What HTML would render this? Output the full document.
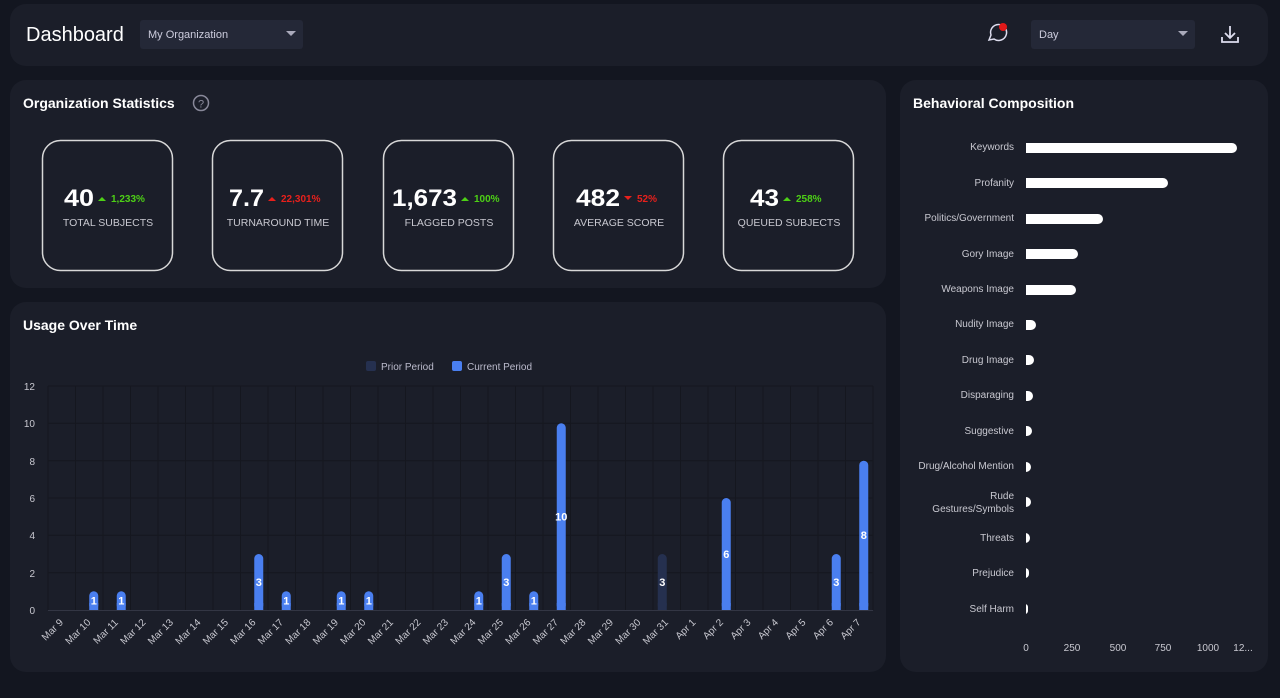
<!DOCTYPE html>
<html><head><meta charset="utf-8"><style>
html,body{margin:0;padding:0;background:#131620;width:1280px;height:698px;overflow:hidden}
svg{display:block;font-family:"Liberation Sans",sans-serif}
</style></head><body>
<svg width="1280" height="698" viewBox="0 0 1280 698">
<rect width="1280" height="698" fill="#131620"/>
<!-- header -->
<rect x="10" y="4" width="1258" height="62" rx="16" fill="#1b1e29"/>
<text x="26" y="41" font-size="20" fill="#fff">Dashboard</text>
<rect x="140" y="20" width="163" height="29" rx="3" fill="#242837"/>
<text x="148" y="38" font-size="11" fill="#ccd">My Organization</text>
<path d="M286 31h10l-5 5z" fill="#aab"/>
<rect x="1031" y="20" width="164" height="29" rx="3" fill="#242837"/>
<text x="1039" y="38" font-size="11" fill="#ccd">Day</text>
<path d="M1178 31h10l-5 5z" fill="#aab"/>
<path d="M989 40 l2-5 a8 8 0 1 1 3 4 z" fill="none" stroke="#dde" stroke-width="1.5"/>
<circle cx="1003" cy="27" r="4" fill="#e01818"/>
<path d="M1230 26v12 M1225 33l5 5 5-5 M1222 37v5h16v-5" fill="none" stroke="#dde" stroke-width="1.8"/>
<!-- stats panel -->
<rect x="10" y="80" width="876" height="208" rx="16" fill="#1b1e29"/>
<text x="23" y="108" font-size="14" font-weight="bold" fill="#fff">Organization Statistics</text>
<circle cx="201" cy="103" r="7.5" fill="none" stroke="#889" stroke-width="1.5"/>
<text x="201" y="107.5" font-size="11" fill="#889" text-anchor="middle">?</text>
<g fill="none" stroke="#d8d8d8" stroke-width="1.5">
<rect x="42.5" y="140.5" width="130" height="130" rx="18"/>
<rect x="212.5" y="140.5" width="130" height="130" rx="18"/>
<rect x="383.5" y="140.5" width="130" height="130" rx="18"/>
<rect x="553.5" y="140.5" width="130" height="130" rx="18"/>
<rect x="723.5" y="140.5" width="130" height="130" rx="18"/>
</g>
<g font-size="10.5" fill="#c8c8d0" text-anchor="middle">
<text x="108" y="226">TOTAL SUBJECTS</text>
<text x="278" y="226">TURNAROUND TIME</text>
<text x="449" y="226">FLAGGED POSTS</text>
<text x="619" y="226">AVERAGE SCORE</text>
<text x="789" y="226">QUEUED SUBJECTS</text>
</g>
<g font-size="24" font-weight="bold" fill="#fff" lengthAdjust="spacingAndGlyphs">
<text x="64" y="206" textLength="30" lengthAdjust="spacingAndGlyphs">40</text>
<text x="229" y="206" textLength="35" lengthAdjust="spacingAndGlyphs">7.7</text>
<text x="392" y="206" textLength="65" lengthAdjust="spacingAndGlyphs">1,673</text>
<text x="576" y="206" textLength="44" lengthAdjust="spacingAndGlyphs">482</text>
<text x="750" y="206" textLength="29" lengthAdjust="spacingAndGlyphs">43</text>
</g>
<g font-size="10" font-weight="bold">
<path d="M98 201l4-4 4 4z" fill="#4dd016"/><text x="111" y="202" fill="#4dd016">1,233%</text>
<path d="M268 201l4-4 4 4z" fill="#e8201c"/><text x="281" y="202" fill="#e8201c">22,301%</text>
<path d="M461 201l4-4 4 4z" fill="#4dd016"/><text x="474" y="202" fill="#4dd016">100%</text>
<path d="M624 196l4 4 4-4z" fill="#e8201c"/><text x="637" y="202" fill="#e8201c">52%</text>
<path d="M783 201l4-4 4 4z" fill="#4dd016"/><text x="796" y="202" fill="#4dd016">258%</text>
</g>
<!-- usage panel -->
<rect x="10" y="302" width="876" height="370" rx="16" fill="#1b1e29"/>
<text x="23" y="330" font-size="14" font-weight="bold" fill="#fff">Usage Over Time</text>
<rect x="366" y="361" width="10" height="10" rx="2" fill="#25304f"/>
<text x="381" y="370" font-size="10" fill="#bbc">Prior Period</text>
<rect x="452" y="361" width="10" height="10" rx="2" fill="#4a7ff0"/>
<text x="467" y="370" font-size="10" fill="#bbc">Current Period</text>
<g stroke="#15171f" stroke-width="1">
<path d="M48 386H873M48 423.3H873M48 460.7H873M48 498H873M48 535.3H873M48 572.7H873"/>
<path d="M48 386V610M75.5 386V610M103 386V610M130.5 386V610M158 386V610M185.5 386V610M213 386V610M240.5 386V610M268 386V610M295.5 386V610M323 386V610M350.5 386V610M378 386V610M405.5 386V610M433 386V610M460.5 386V610M488 386V610M515.5 386V610M543 386V610M570.5 386V610M598 386V610M625.5 386V610M653 386V610M680.5 386V610M708 386V610M735.5 386V610M763 386V610M790.5 386V610M818 386V610M845.5 386V610M873 386V610"/>
</g>
<path d="M48 610.5H873" stroke="#333644" stroke-width="1"/>
<g font-size="10" fill="#c8c8d0" text-anchor="end">
<text x="35" y="390">12</text><text x="35" y="427">10</text><text x="35" y="465">8</text>
<text x="35" y="502">6</text><text x="35" y="539">4</text><text x="35" y="577">2</text><text x="35" y="614">0</text>
</g>
<g fill="#4a7ff0">
<rect x="89.25" y="591.3" width="9" height="18.7" rx="4.5"/>
<rect x="116.75" y="591.3" width="9" height="18.7" rx="4.5"/>
<rect x="254.25" y="554" width="9" height="56" rx="4.5"/>
<rect x="281.75" y="591.3" width="9" height="18.7" rx="4.5"/>
<rect x="336.75" y="591.3" width="9" height="18.7" rx="4.5"/>
<rect x="364.25" y="591.3" width="9" height="18.7" rx="4.5"/>
<rect x="474.25" y="591.3" width="9" height="18.7" rx="4.5"/>
<rect x="501.75" y="554" width="9" height="56" rx="4.5"/>
<rect x="529.25" y="591.3" width="9" height="18.7" rx="4.5"/>
<rect x="556.75" y="423.3" width="9" height="186.7" rx="4.5"/>
<rect x="721.75" y="498" width="9" height="112" rx="4.5"/>
<rect x="831.75" y="554" width="9" height="56" rx="4.5"/>
<rect x="859.25" y="460.7" width="9" height="149.3" rx="4.5"/>
<rect x="89.25" y="603" width="9" height="7"/><rect x="116.75" y="603" width="9" height="7"/>
<rect x="254.25" y="603" width="9" height="7"/><rect x="281.75" y="603" width="9" height="7"/>
<rect x="336.75" y="603" width="9" height="7"/><rect x="364.25" y="603" width="9" height="7"/>
<rect x="474.25" y="603" width="9" height="7"/><rect x="501.75" y="603" width="9" height="7"/>
<rect x="529.25" y="603" width="9" height="7"/><rect x="556.75" y="603" width="9" height="7"/>
<rect x="721.75" y="603" width="9" height="7"/><rect x="831.75" y="603" width="9" height="7"/>
<rect x="859.25" y="603" width="9" height="7"/>
</g>
<rect x="657.75" y="554" width="9" height="56" rx="4.5" fill="#25304f"/>
<rect x="657.75" y="603" width="9" height="7" fill="#25304f"/>
<g font-size="11" font-weight="bold" fill="#fff" text-anchor="middle">
<text x="93.75" y="604.5">1</text><text x="121.25" y="604.5">1</text>
<text x="258.75" y="586">3</text><text x="286.25" y="604.5">1</text>
<text x="341.25" y="604.5">1</text><text x="368.75" y="604.5">1</text>
<text x="478.75" y="604.5">1</text><text x="506.25" y="586">3</text>
<text x="533.75" y="604.5">1</text><text x="561.25" y="520.5">10</text>
<text x="662.25" y="586">3</text><text x="726.25" y="558">6</text>
<text x="836.25" y="586">3</text><text x="863.75" y="539">8</text>
</g>
<g font-size="10" fill="#c8c8d0" text-anchor="end">
<text transform="translate(63.75,623) rotate(-45)">Mar 9</text>
<text transform="translate(91.25,623) rotate(-45)">Mar 10</text>
<text transform="translate(118.75,623) rotate(-45)">Mar 11</text>
<text transform="translate(146.25,623) rotate(-45)">Mar 12</text>
<text transform="translate(173.75,623) rotate(-45)">Mar 13</text>
<text transform="translate(201.25,623) rotate(-45)">Mar 14</text>
<text transform="translate(228.75,623) rotate(-45)">Mar 15</text>
<text transform="translate(256.25,623) rotate(-45)">Mar 16</text>
<text transform="translate(283.75,623) rotate(-45)">Mar 17</text>
<text transform="translate(311.25,623) rotate(-45)">Mar 18</text>
<text transform="translate(338.75,623) rotate(-45)">Mar 19</text>
<text transform="translate(366.25,623) rotate(-45)">Mar 20</text>
<text transform="translate(393.75,623) rotate(-45)">Mar 21</text>
<text transform="translate(421.25,623) rotate(-45)">Mar 22</text>
<text transform="translate(448.75,623) rotate(-45)">Mar 23</text>
<text transform="translate(476.25,623) rotate(-45)">Mar 24</text>
<text transform="translate(503.75,623) rotate(-45)">Mar 25</text>
<text transform="translate(531.25,623) rotate(-45)">Mar 26</text>
<text transform="translate(558.75,623) rotate(-45)">Mar 27</text>
<text transform="translate(586.25,623) rotate(-45)">Mar 28</text>
<text transform="translate(613.75,623) rotate(-45)">Mar 29</text>
<text transform="translate(641.25,623) rotate(-45)">Mar 30</text>
<text transform="translate(668.75,623) rotate(-45)">Mar 31</text>
<text transform="translate(696.25,623) rotate(-45)">Apr 1</text>
<text transform="translate(723.75,623) rotate(-45)">Apr 2</text>
<text transform="translate(751.25,623) rotate(-45)">Apr 3</text>
<text transform="translate(778.75,623) rotate(-45)">Apr 4</text>
<text transform="translate(806.25,623) rotate(-45)">Apr 5</text>
<text transform="translate(833.75,623) rotate(-45)">Apr 6</text>
<text transform="translate(861.25,623) rotate(-45)">Apr 7</text>
</g>
<!-- behavioral panel -->
<rect x="900" y="80" width="368" height="592" rx="16" fill="#1b1e29"/>
<text x="913" y="108" font-size="14" font-weight="bold" fill="#fff">Behavioral Composition</text>
<g font-size="10" fill="#c8c8d0" text-anchor="end">
<text x="1014" y="150">Keywords</text>
<text x="1014" y="186">Profanity</text>
<text x="1014" y="221">Politics/Government</text>
<text x="1014" y="257">Gory Image</text>
<text x="1014" y="292">Weapons Image</text>
<text x="1014" y="327">Nudity Image</text>
<text x="1014" y="363">Drug Image</text>
<text x="1014" y="398">Disparaging</text>
<text x="1014" y="434">Suggestive</text>
<text x="1014" y="469">Drug/Alcohol Mention</text>
<text x="1014" y="499">Rude</text>
<text x="1014" y="512">Gestures/Symbols</text>
<text x="1014" y="541">Threats</text>
<text x="1014" y="576">Prejudice</text>
<text x="1014" y="612">Self Harm</text>
</g>
<g fill="#fff">
<rect x="1021" y="143" width="216" height="10" rx="5"/>
<rect x="1021" y="178" width="147" height="10" rx="5"/>
<rect x="1021" y="214" width="82" height="10" rx="5"/>
<rect x="1021" y="249" width="57" height="10" rx="5"/>
<rect x="1021" y="285" width="55" height="10" rx="5"/>
<rect x="1021" y="320" width="15" height="10" rx="5"/>
<rect x="1021" y="355" width="13" height="10" rx="5"/>
<rect x="1021" y="391" width="12" height="10" rx="5"/>
<rect x="1021" y="426" width="11" height="10" rx="5"/>
<rect x="1021" y="462" width="10" height="10" rx="5"/>
<rect x="1021" y="497" width="10" height="10" rx="5"/>
<rect x="1021" y="533" width="9" height="10" rx="5"/>
<rect x="1021" y="568" width="8" height="10" rx="4"/>
<rect x="1021" y="604" width="7" height="10" rx="3"/>
</g>
<rect x="1015" y="140" width="11" height="480" fill="#1b1e29"/>
<g font-size="10" fill="#c8c8d0" text-anchor="middle">
<text x="1026" y="651">0</text><text x="1072" y="651">250</text><text x="1118" y="651">500</text>
<text x="1163" y="651">750</text><text x="1208" y="651">1000</text><text x="1243" y="651">12...</text>
</g>
</svg>
</body></html>
